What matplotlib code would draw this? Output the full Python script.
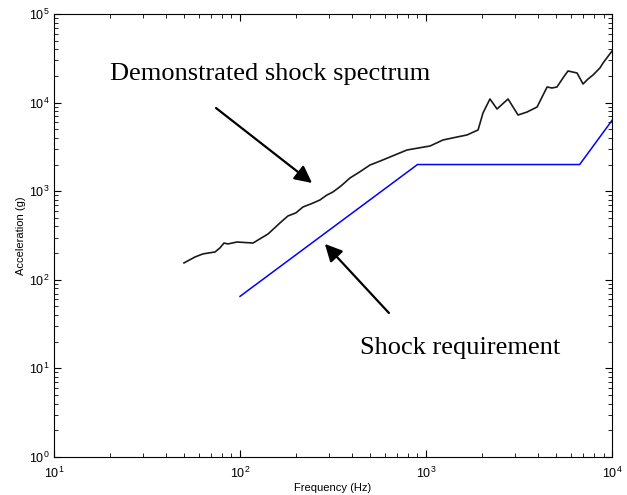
import matplotlib

matplotlib.use("Agg")
import matplotlib.pyplot as plt
import numpy as np

# demonstrated shock response spectrum
demo_freq_hz = [50.0, 57.3, 63.2, 73.4, 78.0, 82.0, 86.2, 96.3, 117.5, 141.5,
                164, 181, 200, 218, 245, 269, 292, 316, 350, 390, 440, 500, 570, 640, 790, 1051,
                1234, 1468, 1660, 1905, 2025, 2207, 2409, 2761, 3125, 3494,
                3955, 4477, 4757, 5058, 5500, 5799, 6486, 6984, 7430, 7907, 8610,
                8950, 10000]
demo_accel_g = [155, 181, 196, 206, 229, 260, 254, 267, 260, 329,
                438, 525, 570, 663, 730, 796, 900, 980, 1150, 1409, 1650, 1976, 2200, 2432, 2918, 3237,
                3785, 4090, 4310, 4910, 7640, 10990, 8470, 10990, 7245, 7830,
                8920, 15000, 14620, 15000, 19500, 22750, 21590, 16220, 18460, 20500, 24600,
                28000, 38200]

# shock requirement
req_freq_hz = [100, 900, 6700, 10000]
req_accel_g = [65, 2000, 2000, 6300]

plt.rcParams["font.family"] = ["Liberation Sans", "DejaVu Sans"]
plt.rcParams["mathtext.fontset"] = "custom"
plt.rcParams["mathtext.rm"] = "Liberation Sans"
plt.rcParams["mathtext.it"] = "Liberation Sans"

fig = plt.figure(figsize=(6.27, 4.95), dpi=100)
ax = fig.add_axes([0.0861, 0.0768, 0.8900, 0.8949])

ax.plot(demo_freq_hz, demo_accel_g, color="#1a1a1a", linewidth=1.2)
ax.plot(req_freq_hz, req_accel_g, color="#0000ff", linewidth=1.1)

ax.set_xscale("log")
ax.set_yscale("log")
ax.set_xlim(10, 1e4)
ax.set_ylim(1, 1e5)
ax.tick_params(which="both", direction="in", top=True, right=True, labelsize=9)
ax.tick_params(which="major", length=5, width=0.8)
ax.tick_params(which="minor", length=3, width=0.6)
ax.tick_params(axis="x", pad=6)
for spine in ax.spines.values():
    spine.set_linewidth(0.8)

ax.set_xlabel("Frequency (Hz)", fontsize=8, labelpad=2)
ax.set_ylabel("Acceleration (g)", fontsize=8, labelpad=2)

serif = ["Liberation Serif", "DejaVu Serif"]
arrow = dict(arrowstyle="-|>", color="black", lw=1.6, mutation_scale=26,
             shrinkA=0, shrinkB=0)
ax.annotate("", xy=(244, 1238), xytext=(74.3, 8690), arrowprops=arrow)
ax.annotate("", xy=(286, 254), xytext=(632, 42.2), arrowprops=arrow)

ax.text(0.100, 0.865, "Demonstrated shock spectrum", transform=ax.transAxes,
        family=serif, fontsize=19, ha="left", va="center")
ax.text(0.548, 0.245, "Shock requirement", transform=ax.transAxes,
        family=serif, fontsize=19, ha="left", va="center")

fig.savefig("out.png", dpi=100)
